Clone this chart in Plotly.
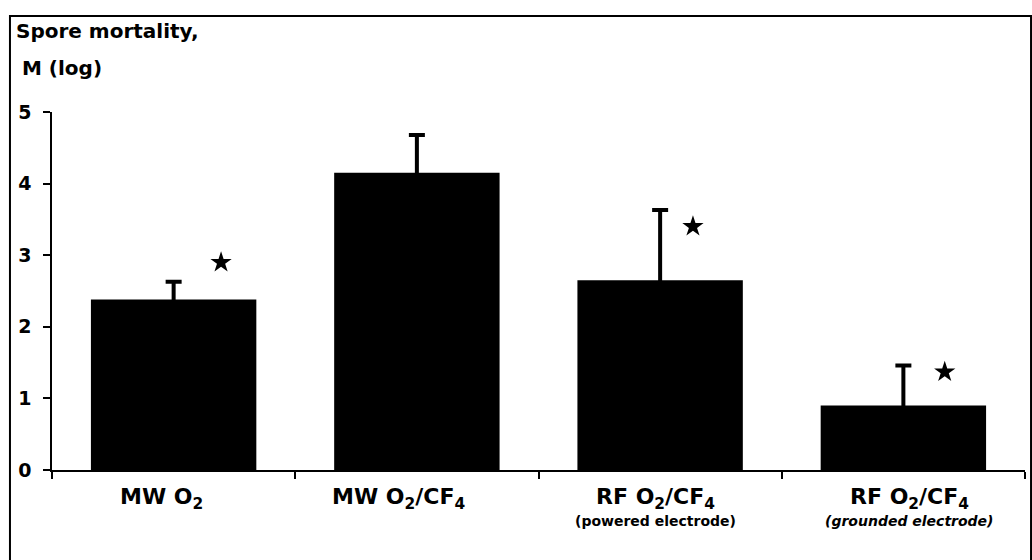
import plotly.graph_objects as go

# Data
categories = ["MW O<sub>2</sub>", "MW O<sub>2</sub>/CF<sub>4</sub>",
              "RF O<sub>2</sub>/CF<sub>4</sub>", "RF O<sub>2</sub>/CF<sub>4</sub>"]
subtitles = ["", "", "(powered electrode)", "<i>(grounded electrode)</i>"]
label_shift = [-12, -18, -5, 6]
mortality = [2.38, 4.15, 2.65, 0.90]
err_upper = [0.25, 0.53, 0.98, 0.56]
star_cat = [0, 2, 3]
star_offset = [0.195, 0.135, 0.17]
star_y = [2.90, 3.40, 1.37]
y_ticks = [0, 1, 2, 3, 4, 5]

FONT = "DejaVu Sans"
xpos = list(range(len(categories)))

fig = go.Figure()
fig.add_trace(go.Bar(
    x=xpos, y=mortality, width=0.68,
    marker=dict(color="black", line=dict(width=0)),
    error_y=dict(type="data", symmetric=True, array=err_upper,
                 color="black", thickness=4, width=8),
    showlegend=False,
))
fig.add_trace(go.Scatter(
    x=[star_cat[i] + star_offset[i] for i in range(len(star_cat))],
    y=star_y, mode="markers",
    marker=dict(symbol="star", size=16, color="black"),
    showlegend=False,
))

annotations = []
for i, (c, s) in enumerate(zip(categories, subtitles)):
    annotations.append(dict(x=i, y=0, xref="x", yref="paper", text="<b>%s</b>" % c,
                            showarrow=False, xanchor="center", yanchor="middle",
                            xshift=label_shift[i], yshift=-28,
                            font=dict(family=FONT, size=22, color="black")))
    if s:
        annotations.append(dict(x=i, y=0, xref="x", yref="paper", text="<b>%s</b>" % s,
                                showarrow=False, xanchor="center", yanchor="middle",
                                xshift=label_shift[i], yshift=-51,
                                font=dict(family=FONT, size=14, color="black")))
annotations.append(dict(x=0, y=1, xref="paper", yref="paper", text="<b>Spore mortality,</b>",
                        showarrow=False, xanchor="left", yanchor="middle",
                        xshift=-38, yshift=81, font=dict(family=FONT, size=20, color="black")))
annotations.append(dict(x=0, y=1, xref="paper", yref="paper", text="<b>M (log)</b>",
                        showarrow=False, xanchor="left", yanchor="middle",
                        xshift=-32, yshift=44, font=dict(family=FONT, size=20, color="black")))

fig.update_layout(
    width=1032, height=560,
    margin=dict(l=52, r=7, t=112, b=90),
    paper_bgcolor="white", plot_bgcolor="white",
    annotations=annotations,
    shapes=[dict(type="rect", xref="paper", yref="paper",
                 x0=-0.0432, x1=1.0062, y0=-0.26, y1=1.268,
                 line=dict(color="black", width=2), fillcolor="rgba(0,0,0,0)")],
    xaxis=dict(range=[-0.5, 3.5], tickvals=[-0.5, 0.5, 1.5, 2.5, 3.5],
               ticktext=[""] * 5, ticks="outside", ticklen=7, tickwidth=1.5,
               tickcolor="black", showline=True, linecolor="black", linewidth=1.5,
               showgrid=False, zeroline=False, fixedrange=True),
    yaxis=dict(range=[0, 5], tickvals=y_ticks, ticks="outside", ticklen=7,
               tickwidth=1.5, tickcolor="black", showline=True, linecolor="black",
               linewidth=1.5, showgrid=False, zeroline=False,
               tickfont=dict(family=FONT, size=19, color="black", weight="bold"),
               ticklabelstandoff=8, fixedrange=True),
)

fig.write_html("out.html")
